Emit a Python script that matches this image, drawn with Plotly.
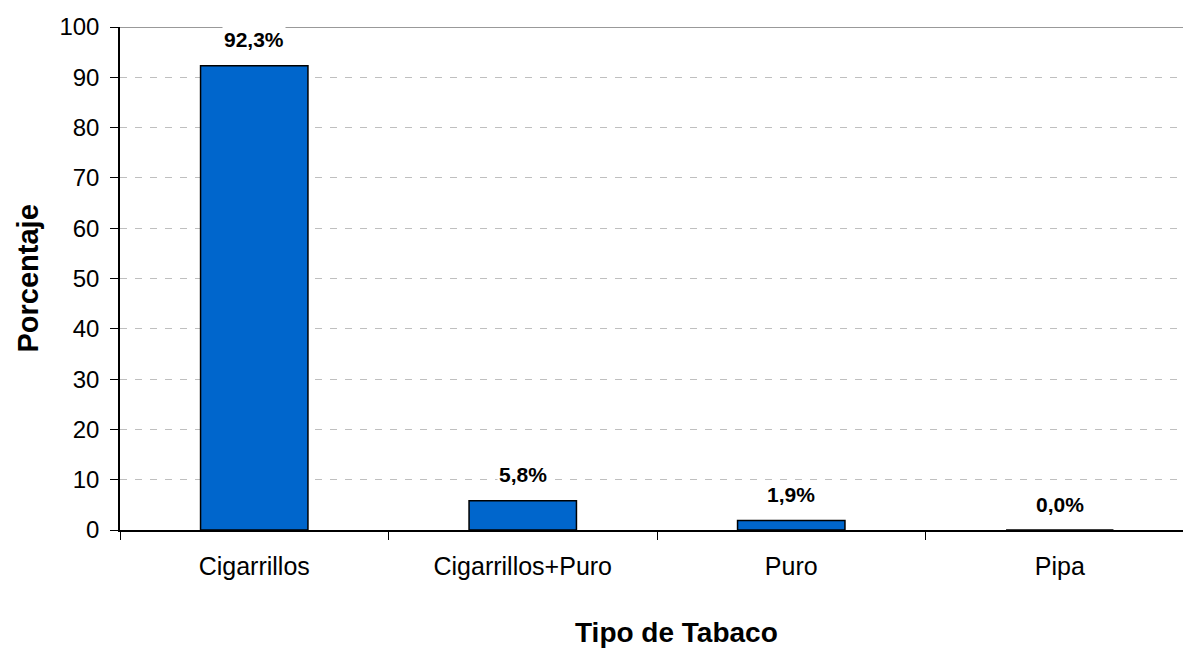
import plotly.graph_objects as go

categories = ["Cigarrillos", "Cigarrillos+Puro", "Puro", "Pipa"]
values = [92.3, 5.8, 1.9, 0.0]
labels = ["92,3%", "5,8%", "1,9%", "0,0%"]
y_ticks = [0, 10, 20, 30, 40, 50, 60, 70, 80, 90, 100]

FONT = "Liberation Sans, Arial, sans-serif"
W, H = 1183, 649
L, R, T, B = 120, 0, 27, 119
pw = W - L - R

fig = go.Figure()
fig.add_trace(go.Bar(
    x=categories, y=values, width=0.40,
    marker=dict(color="#0066CC", line=dict(color="#000000", width=1.5)),
    hoverinfo="skip",
))

for c, v, t in zip(categories, values, labels):
    fig.add_annotation(
        x=c, y=v, xref="x", yref="y", text="<b>%s</b>" % t,
        showarrow=False, yshift=26, bgcolor="#ffffff",
        font=dict(family=FONT, size=21, color="#000000"),
        borderpad=1,
    )

# top border line
fig.add_shape(type="line", xref="paper", yref="y", x0=0, x1=1, y0=100, y1=100,
              line=dict(color="#999999", width=2), layer="below")

# axis titles
fig.add_annotation(
    xref="paper", yref="paper", x=(27 - L) / pw, y=0.5, text="<b>Porcentaje</b>",
    textangle=-90, showarrow=False, xanchor="center", yanchor="middle",
    font=dict(family=FONT, size=29, color="#000000"),
)
fig.add_annotation(
    xref="paper", yref="paper", x=(676 - L) / pw, y=-(632 - (H - B)) / (H - T - B),
    text="<b>Tipo de Tabaco</b>", showarrow=False, xanchor="center", yanchor="middle",
    font=dict(family=FONT, size=28, color="#000000"),
)

fig.update_layout(
    width=W, height=H,
    margin=dict(l=L, r=R, t=T, b=B),
    paper_bgcolor="#ffffff", plot_bgcolor="#ffffff",
    showlegend=False,
    bargap=0.6,
    font=dict(family=FONT, size=24, color="#000000"),
)
fig.update_xaxes(
    type="category", range=[-0.5, 3.459],
    showline=True, linecolor="#000000", linewidth=1.5,
    ticks="outside", tickson="boundaries", ticklen=8, tickwidth=1, tickcolor="#000000",
    showgrid=False, ticklabelstandoff=13,
    tickfont=dict(family=FONT, size=25, color="#000000"),
)
fig.update_yaxes(
    range=[0, 100], tickvals=y_ticks,
    showline=True, linecolor="#000000", linewidth=1.5,
    ticks="outside", ticklen=8, tickwidth=1, tickcolor="#000000",
    showgrid=True, gridcolor="#bfbfbf", griddash="7px,8px", gridwidth=1,
    zeroline=False, ticklabelstandoff=6,
    tickfont=dict(family=FONT, size=24, color="#000000"),
)

fig.write_html("out.html", config={"displayModeBar": False})
